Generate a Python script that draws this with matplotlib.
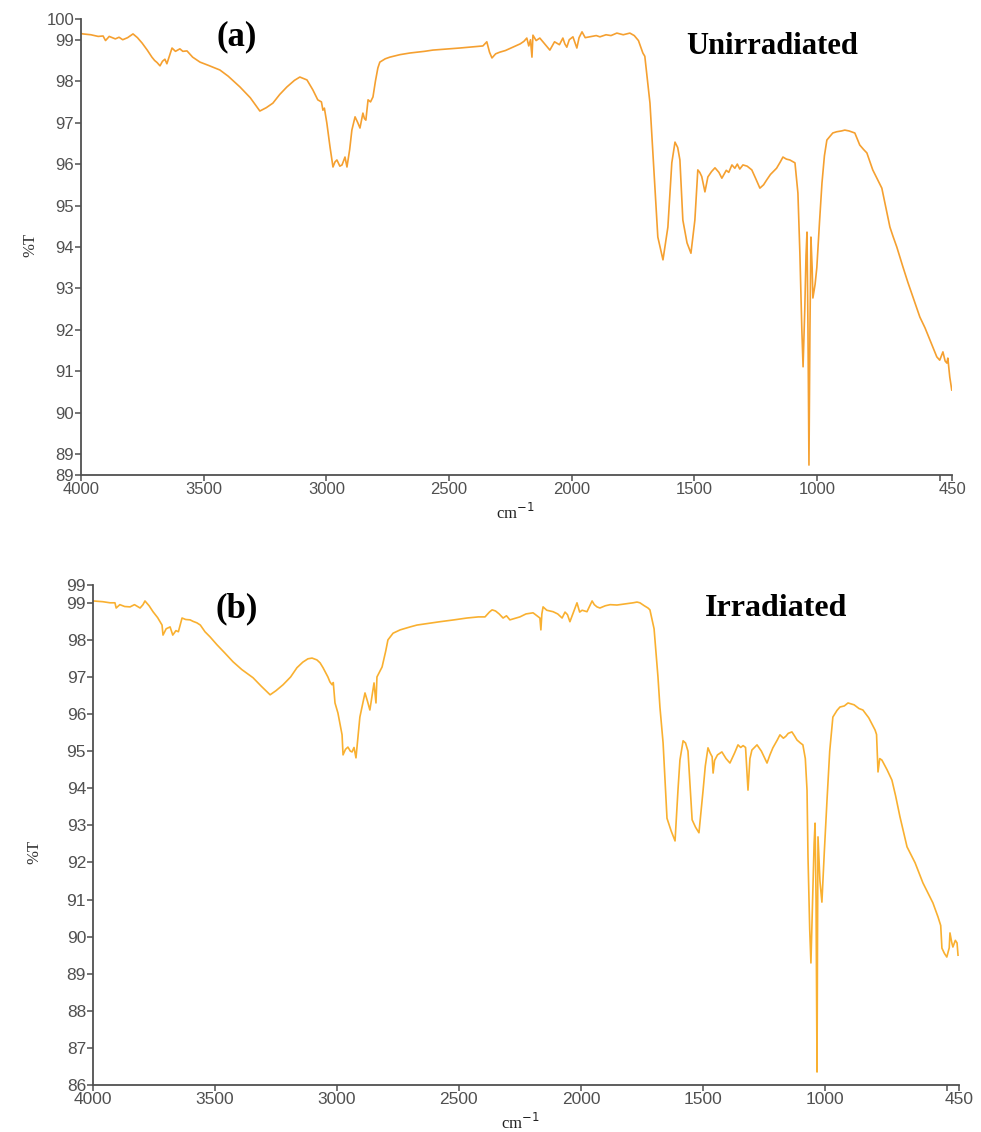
import numpy as np
import matplotlib.pyplot as plt

######################################################
# FTIR spectra
######################################################
# (a) unirradiated: wavenumber (cm-1) and %T
wn_a = [4000, 3992, 3960, 3930, 3910, 3900, 3885, 3860, 3845, 3830, 3810, 3788, 3770, 3751,
        3730, 3711, 3700, 3690, 3678, 3668, 3658, 3650, 3640, 3629, 3615, 3597, 3585, 3568,
        3545, 3515, 3480, 3434, 3400, 3352, 3310, 3271, 3245, 3218, 3190, 3161, 3130, 3108,
        3079, 3055, 3035, 3020, 3014, 3008, 2998, 2985, 2973, 2965, 2957, 2945, 2936, 2924,
        2916, 2905, 2896, 2883, 2872, 2863, 2851, 2845, 2839, 2830, 2820, 2810, 2800, 2790,
        2782, 2760, 2741, 2700, 2659, 2600, 2566, 2500, 2456, 2400, 2362, 2346, 2335, 2325,
        2310, 2293, 2270, 2240, 2210, 2195, 2183, 2175, 2168, 2162, 2158, 2145, 2130, 2110,
        2089, 2070, 2050, 2036, 2028, 2020, 2010, 1995, 1985, 1979, 1970, 1958, 1945, 1926,
        1900, 1885, 1860, 1840, 1816, 1790, 1763, 1745, 1728, 1710, 1702, 1681, 1669, 1649,
        1628, 1608, 1592, 1579, 1568, 1559, 1547, 1530, 1514, 1498, 1486, 1478, 1470, 1457,
        1445, 1430, 1416, 1400, 1388, 1370, 1360, 1347, 1335, 1325, 1315, 1302, 1285, 1266,
        1250, 1233, 1218, 1205, 1190, 1180, 1165, 1150, 1139, 1125, 1111, 1090, 1078, 1070,
        1062, 1057, 1050, 1045, 1041, 1037, 1033, 1029, 1025, 1020, 1017, 1008, 1001, 990,
        980, 970, 960, 936, 920, 900, 887, 870, 846, 826, 810, 797, 773, 736,
        703, 690, 675, 650, 630, 609, 581, 560, 540, 512, 500, 487, 478, 471,
        467, 459, 451]
t_a = [99.15, 99.14, 99.12, 99.08, 99.09, 98.98, 99.08, 99.02, 99.06, 99.00, 99.05, 99.14, 99.05, 98.92,
       98.75, 98.58, 98.50, 98.45, 98.37, 98.48, 98.53, 98.42, 98.60, 98.80, 98.72, 98.78, 98.72, 98.73,
       98.58, 98.46, 98.38, 98.27, 98.12, 97.86, 97.60, 97.28, 97.36, 97.47, 97.68, 97.86, 98.02, 98.10,
       98.03, 97.79, 97.55, 97.50, 97.30, 97.35, 96.99, 96.41, 95.93, 96.05, 96.10, 95.95, 95.98, 96.17,
       95.93, 96.35, 96.82, 97.14, 97.00, 96.87, 97.23, 97.10, 97.06, 97.55, 97.50, 97.62, 98.00, 98.32,
       98.46, 98.54, 98.58, 98.64, 98.68, 98.72, 98.75, 98.78, 98.80, 98.83, 98.85, 98.95, 98.70, 98.56,
       98.66, 98.70, 98.74, 98.82, 98.90, 98.96, 99.04, 98.85, 99.00, 98.58, 99.11, 98.98, 99.04, 98.90,
       98.75, 98.95, 98.88, 99.04, 98.90, 98.82, 99.00, 99.07, 98.90, 98.80, 99.05, 99.19, 99.05, 99.07,
       99.10, 99.07, 99.12, 99.10, 99.16, 99.12, 99.16, 99.10, 98.98, 98.68, 98.60, 97.47, 96.27, 94.24,
       93.69, 94.48, 96.03, 96.53, 96.40, 96.10, 94.65, 94.10, 93.85, 94.65, 95.86, 95.80, 95.70, 95.33,
       95.69, 95.82, 95.91, 95.80, 95.66, 95.85, 95.80, 95.98, 95.90, 96.00, 95.88, 95.98, 95.95, 95.86,
       95.65, 95.42, 95.50, 95.62, 95.75, 95.81, 95.90, 96.05, 96.17, 96.12, 96.10, 96.03, 95.30, 93.85,
       92.00, 91.11, 92.50, 93.80, 94.36, 92.00, 88.74, 92.00, 94.24, 93.50, 92.77, 93.10, 93.50, 94.60,
       95.54, 96.20, 96.58, 96.75, 96.78, 96.80, 96.82, 96.80, 96.75, 96.46, 96.35, 96.27, 95.86, 95.42,
       94.48, 94.25, 94.00, 93.52, 93.15, 92.79, 92.31, 92.05, 91.76, 91.35, 91.27, 91.47, 91.25, 91.20,
       91.32, 90.86, 90.55]

# (b) irradiated
wn_b = [4000, 3960, 3930, 3910, 3905, 3890, 3870, 3848, 3830, 3807, 3795, 3787, 3770, 3754,
        3735, 3717, 3713, 3700, 3684, 3673, 3660, 3650, 3635, 3620, 3602, 3590, 3574, 3560,
        3541, 3520, 3492, 3460, 3426, 3390, 3344, 3310, 3274, 3250, 3221, 3190, 3164, 3140,
        3119, 3102, 3082, 3069, 3057, 3037, 3029, 3020, 3015, 3008, 2996, 2979, 2975, 2965,
        2955, 2945, 2938, 2930, 2922, 2906, 2885, 2875, 2865, 2848, 2840, 2836, 2815, 2800,
        2791, 2770, 2741, 2700, 2672, 2620, 2578, 2520, 2467, 2420, 2393, 2375, 2364, 2350,
        2335, 2319, 2305, 2291, 2270, 2250, 2225, 2196, 2180, 2168, 2164, 2160, 2155, 2140,
        2114, 2095, 2077, 2065, 2055, 2045, 2030, 2016, 2005, 1995, 1975, 1965, 1954, 1945,
        1934, 1922, 1900, 1880, 1852, 1820, 1786, 1770, 1758, 1740, 1725, 1717, 1700, 1684,
        1676, 1663, 1647, 1630, 1614, 1602, 1594, 1581, 1571, 1561, 1544, 1530, 1516, 1499,
        1490, 1479, 1470, 1462, 1458, 1452, 1440, 1422, 1405, 1389, 1370, 1356, 1345, 1335,
        1325, 1315, 1307, 1299, 1278, 1260, 1237, 1225, 1213, 1195, 1184, 1170, 1160, 1150,
        1135, 1125, 1114, 1100, 1090, 1080, 1073, 1069, 1062, 1057, 1050, 1044, 1040, 1036,
        1032, 1030, 1028, 1020, 1012, 1002, 991, 980, 967, 950, 938, 920, 905, 880,
        860, 844, 820, 800, 794, 788, 782, 775, 766, 745, 725, 710, 692, 680,
        663, 630, 598, 575, 557, 536, 525, 520, 510, 500, 490, 487, 480, 475,
        465, 458, 454]
t_b = [99.05, 99.03, 99.00, 99.00, 98.86, 98.95, 98.90, 98.89, 98.95, 98.86, 98.95, 99.05, 98.92, 98.76,
       98.60, 98.40, 98.13, 98.30, 98.35, 98.13, 98.25, 98.22, 98.59, 98.55, 98.54, 98.50, 98.46, 98.40,
       98.22, 98.08, 97.87, 97.65, 97.41, 97.20, 96.98, 96.75, 96.52, 96.63, 96.79, 97.00, 97.25, 97.40,
       97.49, 97.51, 97.46, 97.38, 97.25, 97.00, 96.87, 96.79, 96.85, 96.30, 96.03, 95.44, 94.90, 95.05,
       95.11, 95.00, 94.98, 95.10, 94.82, 95.92, 96.57, 96.35, 96.11, 96.84, 96.30, 97.00, 97.27, 97.70,
       98.00, 98.18, 98.27, 98.35, 98.40, 98.45, 98.49, 98.54, 98.59, 98.62, 98.62, 98.75, 98.81, 98.78,
       98.70, 98.59, 98.65, 98.54, 98.58, 98.62, 98.70, 98.73, 98.65, 98.59, 98.27, 98.70, 98.89, 98.80,
       98.76, 98.70, 98.59, 98.75, 98.68, 98.49, 98.75, 99.00, 98.75, 98.80, 98.76, 98.90, 99.05, 98.95,
       98.89, 98.86, 98.92, 98.95, 98.94, 98.97, 99.00, 99.02, 99.00, 98.92, 98.86, 98.81, 98.30, 97.00,
       96.19, 95.22, 93.19, 92.85, 92.58, 93.95, 94.76, 95.28, 95.22, 95.00, 93.15, 92.95, 92.80, 93.95,
       94.60, 95.09, 94.95, 94.85, 94.41, 94.75, 94.90, 94.98, 94.80, 94.68, 94.95, 95.17, 95.10, 95.15,
       95.10, 93.95, 94.80, 95.03, 95.17, 95.00, 94.68, 94.90, 95.09, 95.30, 95.44, 95.35, 95.40, 95.48,
       95.52, 95.42, 95.30, 95.22, 95.17, 94.80, 93.95, 92.15, 90.20, 89.29, 91.00, 92.50, 93.06, 91.00,
       86.35, 90.00, 92.69, 91.50, 90.93, 92.30, 93.69, 95.00, 95.92, 96.10, 96.19, 96.22, 96.30, 96.25,
       96.15, 96.11, 95.90, 95.65, 95.57, 95.45, 94.44, 94.80, 94.76, 94.50, 94.22, 93.80, 93.23, 92.90,
       92.42, 91.99, 91.45, 91.15, 90.91, 90.53, 90.30, 89.69, 89.55, 89.45, 89.70, 90.10, 89.85, 89.72,
       89.90, 89.83, 89.50]

# tick labels
xticks = [4000, 3500, 3000, 2500, 2000, 1500, 1000, 500, 450]
xlabels = ['4000', '3500', '3000', '2500', '2000', '1500', '1000', '', '450']
yticks_a = [88.5] + list(range(89, 100)) + [99.5]
ylabels_a = ['89'] + [str(v) for v in range(89, 100)] + ['100']
yticks_b = list(range(86, 100)) + [99.48]
ylabels_b = [str(v) for v in range(86, 100)] + ['99']
######################################################

W, H = 981, 1132
tickfont = ['Liberation Sans', 'DejaVu Sans']
serif = ['Liberation Serif', 'DejaVu Serif']


def fx(px):
    return px / W


def fy(py):
    return 1 - py / H


def style(ax, yt, yl, ylim, fs):
    ax.set_xlim(4000, 450)
    ax.set_ylim(*ylim)
    ax.set_xticks(xticks)
    ax.set_xticklabels(xlabels, family=tickfont, fontsize=fs, color='#505050')
    ax.set_yticks(yt)
    ax.set_yticklabels(yl, family=tickfont, fontsize=fs, color='#505050')
    ax.tick_params(length=4, width=1.1, color='#505050', pad=1)
    for s in ['top', 'right']:
        ax.spines[s].set_visible(False)
    for s in ['left', 'bottom']:
        ax.spines[s].set_color('#505050')
        ax.spines[s].set_linewidth(1.3)


fig = plt.figure(figsize=(W / 100, H / 100), dpi=100)

# panel (a)
ax1 = fig.add_axes([fx(81), fy(475), fx(952 - 81), (475 - 19) / H])
ax1.plot(wn_a, t_a, color='#F5A030', lw=1.2)
style(ax1, yticks_a, ylabels_a, (88.5, 99.5), 12)
fig.text(fx(237), fy(37), '(a)', family=serif, fontweight='bold', fontsize=25,
         ha='center', va='center')
fig.text(fx(772), fy(47), 'Unirradiated', family=serif, fontweight='bold', fontsize=22,
         ha='center', va='center')
fig.text(fx(30), fy(245), '%T', family=serif, fontsize=12, rotation=90,
         ha='center', va='center', color='#333333')
fig.text(fx(515), fy(513), 'cm$^{-1}$', family=serif, fontsize=12,
         ha='center', va='center', color='#222222')

# panel (b)
ax2 = fig.add_axes([fx(93), fy(1085), fx(959 - 93), (1085 - 585) / H])
ax2.plot(wn_b, t_b, color='#F9B030', lw=1.2)
style(ax2, yticks_b, ylabels_b, (86, 99.48), 12.5)
fig.text(fx(237), fy(609), '(b)', family=serif, fontweight='bold', fontsize=25,
         ha='center', va='center')
fig.text(fx(776), fy(608), 'Irradiated', family=serif, fontweight='bold', fontsize=23,
         ha='center', va='center')
fig.text(fx(34), fy(852), '%T', family=serif, fontsize=12, rotation=90,
         ha='center', va='center', color='#333333')
fig.text(fx(520), fy(1123), 'cm$^{-1}$', family=serif, fontsize=12,
         ha='center', va='center', color='#222222')

fig.savefig('out.png', dpi=100)
